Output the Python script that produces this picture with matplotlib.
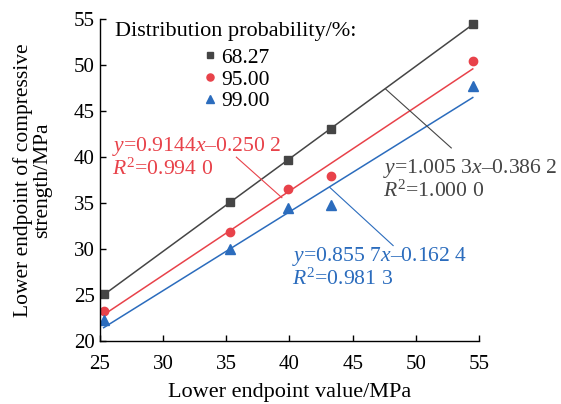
import numpy as np
import matplotlib.pyplot as plt

plt.rcParams['font.family'] = ['Liberation Serif', 'DejaVu Serif']
plt.rcParams['mathtext.fontset'] = 'custom'
plt.rcParams['mathtext.rm'] = 'Liberation Serif'
plt.rcParams['mathtext.it'] = 'Liberation Serif:italic'

# measured lower endpoint values (MPa)
x_vals = [25.3, 35.3, 39.9, 43.3, 54.5]
y_6827 = [25.1, 35.1, 39.7, 43.1, 54.5]
y_9500 = [23.3, 31.9, 36.5, 38.0, 50.4]
y_9900 = [22.3, 30.0, 34.5, 34.8, 47.7]

# fitted lines: slope, intercept
fit_6827 = (1.0053, -0.3862)
fit_9500 = (0.9144, -0.2502)
fit_9900 = (0.8557, -0.1624)

c_blk = '#454545'
c_red = '#e8424a'
c_blu = '#2b6cbd'

fig, ax = plt.subplots(figsize=(5.61, 4.04), dpi=100)
fig.subplots_adjust(left=0.178, right=0.854, bottom=0.155, top=0.953)

xs = np.array([x_vals[0], x_vals[-1]])
series = [(y_6827, fit_6827, c_blk, 's', 5.2, '68.27'),
          (y_9500, fit_9500, c_red, 'o', 6.0, '95.00'),
          (y_9900, fit_9900, c_blu, '^', 6.5, '99.00')]
for ys, (k, b), col, mk, ms, lab in series:
    ax.plot(xs, k * xs + b, color=col, lw=1.1)
    ax.plot(x_vals, ys, mk, color=col, ms=ms, ls='none', label=lab)

ax.set_xlim(25, 55)
ax.set_ylim(20, 55)
ax.set_xticks(range(25, 56, 5))
ax.set_yticks(range(20, 56, 5))
ax.tick_params(direction='in', labelsize=15, length=4, width=1)
ax.tick_params(axis='x', pad=10)
for s in ['top', 'right']:
    ax.spines[s].set_visible(False)
for s in ['left', 'bottom']:
    ax.spines[s].set_linewidth(1)
ax.set_xlabel('Lower endpoint value/MPa', fontsize=16, labelpad=6)
ax.set_ylabel('Lower endpoint of compressive\nstrength/MPa', fontsize=15.5,
              linespacing=1.05)
ax.yaxis.set_label_coords(-0.125, 0.5)

leg = ax.legend(title='Distribution probability/%:', loc='upper left',
                bbox_to_anchor=(0.0, 1.038), frameon=False, fontsize=15.5,
                title_fontsize=16, handletextpad=0.15, labelspacing=0.08,
                borderaxespad=0.3, handlelength=0.8, markerscale=0.85)
leg._legend_box.align = 'center'
leg._legend_box.sep = 5

# annotations
eq_fs = 15.6
ax.text(26.0, 40.0, '$y$=0.9144$x$–0.250 2\n$R^{\\mathrm{2}}$=0.994 0',
        color=c_red, fontsize=eq_fs, va='center', linespacing=1.05)
ax.plot([35.8, 39.4], [40.0, 35.6], color=c_red, lw=0.8)

ax.text(47.4, 37.6, '$y$=1.005 3$x$–0.386 2\n$R^{\\mathrm{2}}$=1.000 0',
        color=c_blk, fontsize=eq_fs, va='center', linespacing=1.05)
ax.plot([47.6, 52.8], [47.4, 41.0], color=c_blk, lw=0.8)

ax.text(40.2, 28.0, '$y$=0.855 7$x$–0.162 4\n$R^{\\mathrm{2}}$=0.981 3',
        color=c_blu, fontsize=eq_fs, va='center', linespacing=1.05)
ax.plot([43.2, 48.2], [36.7, 30.4], color=c_blu, lw=0.8)

fig.savefig('out.png', dpi=100)
